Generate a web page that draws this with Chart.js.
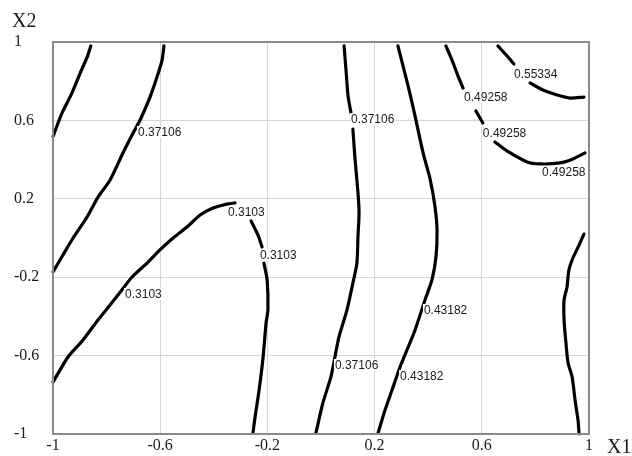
<!DOCTYPE html>
<html>
<head>
<meta charset="utf-8">
<script src="https://cdn.jsdelivr.net/npm/chart.js@4/dist/chart.umd.min.js"></script>
<style>
html,body{margin:0;padding:0;background:#fff;}
#wrap{width:632px;height:456px;}
</style>
</head>
<body>
<div id="wrap"><canvas id="c" width="632" height="456"></canvas></div>
<script>
// Axis ticks
const xTicks = [-1, -0.6, -0.2, 0.2, 0.6, 1];
const xTickLabels = ['-1', '-0.6', '-0.2', '0.2', '0.6', '1'];
const yTicks = [-1, -0.6, -0.2, 0.2, 0.6, 1];
const yTickLabels = ['-1', '-0.6', '-0.2', '0.2', '0.6', '1'];
const xTitle = 'X1';
const yTitle = 'X2';

// Contour lines (X1, X2); null = break in the line
const c1X = [-1.0, -0.967, -0.930, -0.899, -0.872, -0.859];
const c1Y = [0.517, 0.636, 0.738, 0.840, 0.925, 0.980];

const c2X = [-0.586, -0.593, -0.612, -0.638, -0.675, -0.701, -0.739, -0.787, -0.832, -0.873, -0.925, -0.963, -1.0];
const c2Y = [0.980, 0.908, 0.821, 0.719, 0.602, 0.536, 0.434, 0.296, 0.209, 0.107, 0.000, -0.087, -0.173];

const c3X = [-1.000, -0.944, -0.888, -0.832, -0.787, -0.743, -0.705, -0.649, -0.601, -0.552, -0.500, -0.451, -0.403, -0.351, -0.321, null, -0.261, -0.235, -0.220, null, -0.213, -0.201, -0.198, -0.205, -0.216, -0.231, -0.246, -0.254];
const c3Y = [-0.735, -0.607, -0.520, -0.418, -0.342, -0.265, -0.199, -0.128, -0.061, 0.000, 0.056, 0.117, 0.153, 0.173, 0.179, null, 0.087, 0.015, -0.046, null, -0.128, -0.214, -0.367, -0.434, -0.607, -0.776, -0.913, -0.995];

const c4X = [0.086, 0.093, 0.101, 0.112, null, 0.119, 0.127, 0.138, 0.142, 0.138, 0.134, 0.119, 0.097, 0.067, 0.052, 0.037, 0.007, -0.019];
const c4Y = [0.980, 0.862, 0.724, 0.638, null, 0.556, 0.403, 0.230, 0.128, 0.010, -0.128, -0.230, -0.367, -0.505, -0.607, -0.709, -0.842, -0.995];

const c5X = [0.287, 0.306, 0.325, 0.351, 0.381, 0.407, 0.425, 0.433, 0.429, 0.414, 0.388, 0.351, 0.321, 0.295, 0.265, 0.239, 0.213];
const c5Y = [0.980, 0.878, 0.776, 0.622, 0.434, 0.301, 0.163, 0.041, -0.097, -0.214, -0.316, -0.469, -0.571, -0.658, -0.776, -0.878, -0.995];

const c6X = [0.466, 0.493, 0.511, 0.530, null, 0.578, 0.604, null, 0.649, 0.694, 0.769, 0.817, 0.892, 0.940, 0.985];
const c6Y = [0.980, 0.893, 0.827, 0.765, null, 0.648, 0.587, null, 0.490, 0.444, 0.388, 0.378, 0.383, 0.403, 0.434];

const c7X = [0.660, 0.694, 0.720, null, 0.780, 0.828, 0.881, 0.929, 0.981];
const c7Y = [0.980, 0.929, 0.888, null, 0.791, 0.755, 0.730, 0.714, 0.719];

const c8X = [0.981, 0.963, 0.940, 0.925, 0.918, 0.907, 0.907, 0.914, 0.922, 0.937, 0.948, 0.959, 0.963];
const c8Y = [0.020, -0.036, -0.102, -0.163, -0.250, -0.316, -0.418, -0.536, -0.638, -0.709, -0.827, -0.929, -1.0];

// Contour labels (text, anchored at left edge / vertical middle)
const labelText = ['0.37106', '0.3103', '0.3103', '0.3103', '0.37106', '0.37106', '0.43182', '0.43182', '0.49258', '0.49258', '0.49258', '0.55334'];
const labelX = [-0.683, -0.347, -0.228, -0.731, 0.112, 0.052, 0.384, 0.295, 0.534, 0.604, 0.825, 0.720];
const labelY = [0.541, 0.133, -0.087, -0.286, 0.607, -0.648, -0.367, -0.704, 0.719, 0.536, 0.337, 0.837];

const contours = [[c1X, c1Y], [c2X, c2Y], [c3X, c3Y], [c4X, c4Y], [c5X, c5Y], [c6X, c6Y], [c7X, c7Y], [c8X, c8Y]];

const datasets = contours.map(([xs, ys]) => ({
  data: xs.map((x, i) => (x === null ? {x: NaN, y: null} : {x: x, y: ys[i]})),
  showLine: true,
  spanGaps: false,
  borderColor: '#000',
  borderWidth: 3.2,
  borderCapStyle: 'round',
  borderJoinStyle: 'round',
  pointRadius: 0,
  tension: 0.25,
  clip: false
}));

const labelPlugin = {
  id: 'contourLabels',
  afterDatasetsDraw(chart) {
    const ctx = chart.ctx;
    const xs = chart.scales.x, ys = chart.scales.y;
    ctx.save();
    ctx.font = '12px "Liberation Sans", Arial, sans-serif';
    ctx.textBaseline = 'middle';
    ctx.textAlign = 'left';
    labelText.forEach((t, i) => {
      const px = xs.getPixelForValue(labelX[i]);
      const py = ys.getPixelForValue(labelY[i]);
      const w = ctx.measureText(t).width;
      ctx.fillStyle = '#fff';
      ctx.fillRect(px - 1, py - 6, w + 2, 12);
      ctx.fillStyle = '#1a1a1a';
      ctx.fillText(t, px, py + 0.5);
    });
    ctx.restore();
  },
  afterDraw(chart) {
    const ctx = chart.ctx;
    const a = chart.chartArea;
    ctx.save();
    ctx.strokeStyle = '#8a8a8a';
    ctx.lineWidth = 2;
    ctx.strokeRect(a.left, a.top, a.right - a.left, a.bottom - a.top);
    ctx.fillStyle = '#1a1a1a';
    ctx.font = '20px "Liberation Serif", "Times New Roman", serif';
    ctx.textBaseline = 'middle';
    ctx.textAlign = 'left';
    ctx.fillText(yTitle, 12, 22);
    ctx.fillText(xTitle, 607, 448);
    ctx.restore();
  }
};

new Chart(document.getElementById('c'), {
  type: 'scatter',
  data: {datasets: datasets},
  options: {
    responsive: false,
    animation: false,
    devicePixelRatio: 1,
    layout: {padding: {left: 14, right: 43, top: 42, bottom: 0}},
    plugins: {legend: {display: false}, tooltip: {enabled: false}},
    scales: {
      x: {
        type: 'linear', min: -1, max: 1,
        afterBuildTicks: s => { s.ticks = xTicks.map(v => ({value: v})); },
        afterFit: s => { s.height = 22; },
        ticks: {
          callback: (v) => { const i = xTicks.findIndex(t => Math.abs(t - v) < 1e-9); return i >= 0 ? xTickLabels[i] : ''; },
          font: {family: '"Liberation Serif", "Times New Roman", serif', size: 16},
          color: '#1a1a1a', padding: 2, maxRotation: 0, autoSkip: false
        },
        grid: {color: '#d6d6d6', lineWidth: 1, drawTicks: false},
        border: {display: false}
      },
      y: {
        type: 'linear', min: -1, max: 1,
        afterBuildTicks: s => { s.ticks = yTicks.map(v => ({value: v})); },
        afterFit: s => { s.width = 39; },
        ticks: {
          callback: (v) => { const i = yTicks.findIndex(t => Math.abs(t - v) < 1e-9); return i >= 0 ? yTickLabels[i] : ''; },
          font: {family: '"Liberation Serif", "Times New Roman", serif', size: 16},
          color: '#1a1a1a', crossAlign: 'far', autoSkip: false
        },
        grid: {color: '#d6d6d6', lineWidth: 1, drawTicks: false},
        border: {display: false}
      }
    }
  },
  plugins: [labelPlugin]
});
</script>
</body>
</html>
